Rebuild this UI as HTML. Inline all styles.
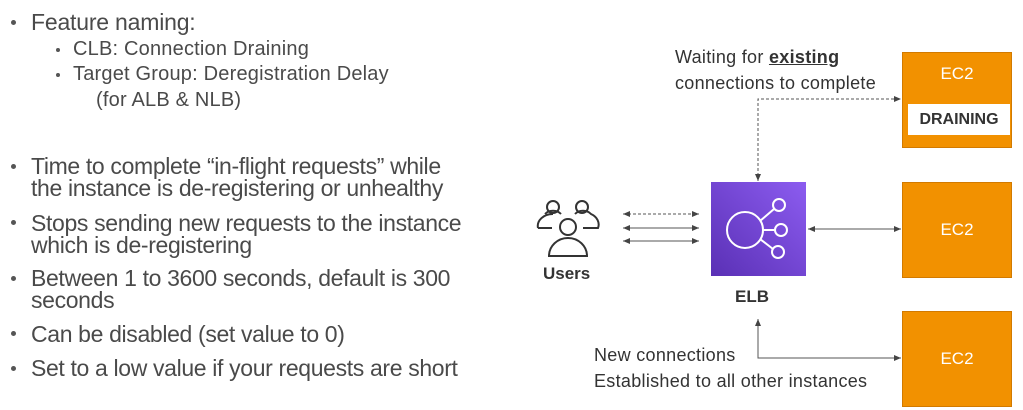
<!DOCTYPE html>
<html><head><meta charset="utf-8"><style>
body{margin:0;width:1023px;height:410px;background:#fff;position:relative;overflow:hidden;font-family:"Liberation Sans",sans-serif;color:#4a4a4a}
.t{position:absolute;white-space:nowrap;line-height:22px}
.b{position:absolute;width:5px;height:5px;border-radius:50%;background:#555}
.ec2{position:absolute;left:902px;width:110px;background:#f29100;border:1px solid #d27a00;box-sizing:border-box;color:#fff;font-size:17px;text-align:center}
.lbl{position:absolute;font-size:18px;color:#333;white-space:nowrap;line-height:26px;letter-spacing:0.3px}
.m{font-size:23px;letter-spacing:-0.35px}
.s{font-size:20px;letter-spacing:0.2px}
</style></head><body>
<div class="b" style="left:11px;top:20px"></div>
<div class="t" style="left:31px;top:11px;font-size:23px;letter-spacing:-0.2px">Feature naming:</div>
<div class="b" style="left:56px;top:48px;width:4px;height:4px"></div>
<div class="t s" style="left:73px;top:38px">CLB: Connection Draining</div>
<div class="b" style="left:56px;top:73px;width:4px;height:4px"></div>
<div class="t s" style="left:73px;top:63px">Target Group: Deregistration Delay</div>
<div class="t s" style="left:96px;top:89px">(for ALB &amp; NLB)</div>

<div class="b" style="left:11px;top:164px"></div>
<div class="t m" style="left:31px;top:155px">Time to complete “in-flight requests” while</div>
<div class="t m" style="left:31px;top:177px">the instance is de-registering or unhealthy</div>
<div class="b" style="left:11px;top:220px"></div>
<div class="t m" style="left:31px;top:212px">Stops sending new requests to the instance</div>
<div class="t m" style="left:31px;top:234px">which is de-registering</div>
<div class="b" style="left:11px;top:276px"></div>
<div class="t m" style="left:31px;top:267px">Between 1 to 3600 seconds, default is 300</div>
<div class="t m" style="left:31px;top:289px">seconds</div>
<div class="b" style="left:11px;top:331px"></div>
<div class="t m" style="left:31px;top:323px">Can be disabled (set value to 0)</div>
<div class="b" style="left:11px;top:366px"></div>
<div class="t m" style="left:31px;top:357px">Set to a low value if your requests are short</div>

<div class="lbl" style="left:675px;top:44px">Waiting for <b style="text-decoration:underline">existing</b></div>
<div class="lbl" style="left:675px;top:70px">connections to complete</div>
<div class="lbl" style="left:594px;top:342px">New connections</div>
<div class="lbl" style="left:594px;top:368px">Established to all other instances</div>

<div class="ec2" style="top:52px;height:96px"><div style="margin-top:11px">EC2</div>
<div style="position:absolute;left:5px;top:51px;width:102px;height:31px;background:#fff;color:#333;font-weight:bold;font-size:16px;line-height:31px">DRAINING</div></div>
<div class="ec2" style="top:182px;height:96px;line-height:94px">EC2</div>
<div class="ec2" style="top:311px;height:96px;line-height:94px">EC2</div>

<div style="position:absolute;left:711px;top:182px;width:95px;height:94px;background:linear-gradient(45deg,#5a30b5,#8c5cf0)"></div>
<div style="position:absolute;left:735px;top:287px;font-weight:bold;font-size:17px;color:#333">ELB</div>
<div style="position:absolute;left:543px;top:264px;font-weight:bold;font-size:17px;color:#333">Users</div>

<svg width="1023" height="410" style="position:absolute;left:0;top:0">
<defs><marker id="a" markerWidth="8" markerHeight="8" refX="7" refY="4" orient="auto-start-reverse"><path d="M0,1 L7,4 L0,7z" fill="#444"/></marker></defs>
<g fill="none" stroke="#fff" stroke-width="2">
<circle cx="745" cy="230" r="18"/><circle cx="779" cy="205" r="6"/><circle cx="781" cy="230" r="6"/><circle cx="778" cy="252" r="6"/>
<path d="M760,221 L774,209 M763,230 L775,230 M760,239 L773,249"/>
</g>
<g fill="none" stroke="#333" stroke-width="2">
<circle cx="553" cy="207" r="6"/><circle cx="582" cy="207" r="6"/><circle cx="568" cy="227" r="8"/>
<path d="M538,228 a15,12 0 0 1 15,-14 M545,214 a10,8 0 0 1 16,0 M575,214 a10,8 0 0 1 16,0 a15,12 0 0 1 7,14 L583,228 M549,256 a19,18 0 0 1 38,0z M538,228 L552,228"/>
</g>
<g stroke="#555" stroke-width="1" fill="none">
<path d="M623,214 L699,214" stroke-dasharray="3,2" marker-start="url(#a)" marker-end="url(#a)"/>
<path d="M623,228 L699,228" marker-start="url(#a)" marker-end="url(#a)"/>
<path d="M623,241 L699,241" marker-start="url(#a)" marker-end="url(#a)"/>
<path d="M808,229 L901,229" marker-start="url(#a)" marker-end="url(#a)"/>
<path d="M758,181 L758,99 L901,99" stroke-dasharray="3,2" marker-start="url(#a)" marker-end="url(#a)"/>
<path d="M758,319 L758,358 L901,358" marker-start="url(#a)" marker-end="url(#a)"/>
</g>
</svg>
</body></html>
